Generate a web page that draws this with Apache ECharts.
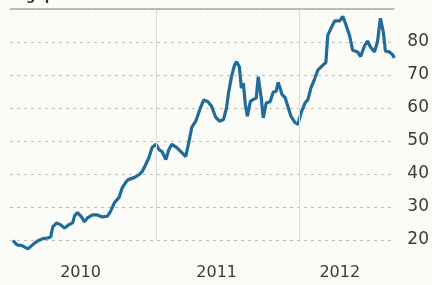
<!DOCTYPE html>
<html>
<head>
<meta charset="utf-8">
<script src="https://cdn.jsdelivr.net/npm/echarts@6/dist/echarts.min.js"></script>
<style>
  html, body { margin: 0; padding: 0; background: #fbfbf7; }
  #main { width: 432px; height: 285px; }
</style>
</head>
<body>
<div id="main"></div>
<script>
// dates as decimal years
var dates = [
    2010.000, 2010.028, 2010.063, 2010.104, 2010.139, 2010.174, 2010.208, 2010.243, 2010.264, 2010.278,
    2010.306, 2010.333, 2010.361, 2010.389, 2010.417, 2010.431, 2010.451, 2010.479, 2010.500, 2010.521,
    2010.556, 2010.590, 2010.625, 2010.660, 2010.681, 2010.708, 2010.743, 2010.764, 2010.792, 2010.806,
    2010.847, 2010.882, 2010.903, 2010.924, 2010.951, 2010.972, 2011.000, 2011.021, 2011.042, 2011.069,
    2011.090, 2011.111, 2011.146, 2011.181, 2011.208, 2011.229, 2011.250, 2011.278, 2011.306, 2011.333,
    2011.361, 2011.389, 2011.417, 2011.444, 2011.472, 2011.493, 2011.507, 2011.528, 2011.549, 2011.563,
    2011.583, 2011.597, 2011.611, 2011.625, 2011.639, 2011.660, 2011.681, 2011.701, 2011.715, 2011.736,
    2011.750, 2011.771, 2011.799, 2011.819, 2011.840, 2011.854, 2011.868, 2011.882, 2011.903, 2011.924,
    2011.944, 2011.972, 2011.993, 2012.014, 2012.042, 2012.063, 2012.083, 2012.111, 2012.132, 2012.167,
    2012.188, 2012.201, 2012.222, 2012.250, 2012.285, 2012.306, 2012.326, 2012.354, 2012.375, 2012.410,
    2012.431, 2012.458, 2012.479, 2012.500, 2012.528, 2012.549, 2012.569, 2012.590, 2012.604, 2012.632,
    2012.653, 2012.667
];
var values = [
    19.8, 18.5, 18.3, 17.3, 18.6, 19.8, 20.4, 20.6, 21.0, 24.0,
    25.2, 24.6, 23.6, 24.6, 25.2, 27.4, 28.3, 27.0, 25.5, 26.7,
    27.6, 27.6, 27.0, 27.2, 28.6, 31.2, 33.0, 35.8, 37.7, 38.3,
    38.9, 39.8, 40.7, 42.5, 45.0, 48.0, 49.0, 47.4, 46.8, 44.4,
    47.4, 49.0, 48.0, 46.5, 45.3, 49.5, 54.1, 56.0, 59.5, 62.4,
    62.0, 60.5, 57.2, 56.0, 56.5, 60.0, 64.5, 69.5, 73.0, 74.0,
    72.5, 66.0, 67.5, 61.0, 57.5, 62.0, 62.6, 63.0, 69.5, 63.0,
    57.0, 61.5, 62.0, 64.8, 65.0, 67.8, 66.0, 64.0, 63.2, 60.2,
    57.5, 55.6, 55.0, 58.5, 61.5, 62.6, 66.0, 69.0, 71.5, 73.0,
    73.8, 82.0, 84.0, 86.4, 86.4, 87.8, 85.5, 81.9, 77.5, 77.0,
    75.6, 78.8, 80.3, 78.5, 77.0, 80.0, 87.2, 83.0, 77.3, 77.0,
    76.2, 75.2
];
var yearLabelPos = [2010.472, 2011.424, 2012.285];
var yearLines = [2011, 2012];

var seriesData = dates.map(function (d, i) { return [d, values[i]]; });

var myChart = echarts.init(document.getElementById('main'));
var option = {
    backgroundColor: '#fbfbf7',
    animation: false,
    graphic: [{
        type: 'text',
        left: 8,
        top: -10,
        style: { text: 'Avg. price', font: 'bold 13px "DejaVu Sans"', fill: '#333' }
    }],
    grid: { left: 10, right: 35, top: 9, bottom: 45 },
    xAxis: {
        type: 'value',
        min: 2009.979,
        max: 2012.667,
        axisLine: { show: false },
        axisTick: { show: false },
        splitLine: { show: false },
        axisLabel: {
            customValues: yearLabelPos,
            formatter: function (v) { return Math.floor(v); },
            margin: 25,
            fontSize: 16,
            fontFamily: 'DejaVu Sans',
            color: '#3a3a3a'
        }
    },
    yAxis: {
        type: 'value',
        position: 'right',
        min: 20,
        max: 90,
        interval: 10,
        axisLine: { show: false },
        axisTick: { show: false },
        axisLabel: {
            margin: 13,
            fontSize: 17,
            fontFamily: 'DejaVu Sans',
            color: '#3a3a3a',
            formatter: function (v) { return v === 90 ? '' : v; }
        },
        splitLine: { lineStyle: { color: '#bdbdbd', type: [3, 4], width: 1 } }
    },
    series: [{
        type: 'line',
        data: seriesData,
        showSymbol: false,
        clip: false,
        lineStyle: { color: '#1f6b99', width: 3.2 },
        markLine: {
            silent: true,
            symbol: 'none',
            label: { show: false },
            lineStyle: { color: '#d9d9d9', type: 'solid', width: 1 },
            data: yearLines.map(function (y) { return { xAxis: y }; }).concat([
                { yAxis: 90, lineStyle: { color: '#a8a8a8', width: 1.5 } }
            ])
        }
    }]
};
myChart.setOption(option);
</script>
</body>
</html>
